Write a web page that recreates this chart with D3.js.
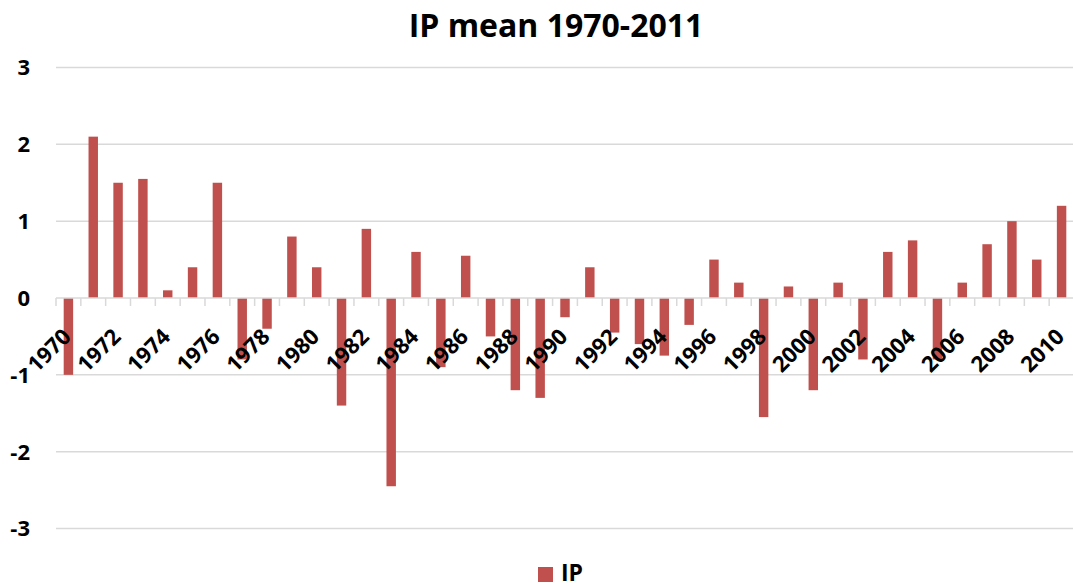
<!DOCTYPE html>
<html>
<head>
<meta charset="utf-8">
<script src="https://cdn.jsdelivr.net/npm/d3@7"></script>
<style>
  html, body { margin: 0; padding: 0; background: #fff; }
  svg { display: block; }
  text { font-family: "Open Sans", "Liberation Sans", sans-serif; font-weight: 700; fill: #000; }
</style>
</head>
<body>
<svg id="chart" width="1073" height="583"></svg>
<script>
const years = d3.range(1970, 2011).map(String);
const ipValues = [
  -1.0, 2.1, 1.5, 1.55, 0.1, 0.4, 1.5, -0.8, -0.4, 0.8,
  0.4, -1.4, 0.9, -2.45, 0.6, -0.9, 0.55, -0.5, -1.2, -1.3,
  -0.25, 0.4, -0.45, -0.6, -0.75, -0.35, 0.5, 0.2, -1.55, 0.15,
  -1.2, 0.2, -0.8, 0.6, 0.75, -0.8, 0.2, 0.7, 1.0, 0.5,
  1.2
];
const yTicks = [-3, -2, -1, 0, 1, 2, 3];
const xTickLabels = years.filter((y, i) => i % 2 === 0);
const seriesName = "IP";
const titleText = "IP mean 1970-2011";
const barColor = "#C0504D";

const svg = d3.select("#chart");
const plotLeft = 56, plotRight = 1074, plotTop = 67.5, plotBottom = 528.5;

const x = d3.scaleBand().domain(years).range([plotLeft, plotRight]).padding(0);
const y = d3.scaleLinear().domain([-3, 3]).range([plotBottom, plotTop]);

// gridlines
svg.append("g").selectAll("line").data(yTicks.filter(t => t !== 0)).join("line")
  .attr("x1", plotLeft).attr("x2", plotRight)
  .attr("y1", d => y(d)).attr("y2", d => y(d))
  .attr("stroke", "#d9d9d9").attr("stroke-width", 1.5);

// y axis labels
svg.append("g").selectAll("text").data(yTicks).join("text")
  .attr("x", 30).attr("y", d => y(d))
  .attr("dy", "0.36em")
  .attr("text-anchor", "end")
  .attr("font-size", 22)
  .text(d => d);

// bars
const bw = x.bandwidth();
svg.append("g").selectAll("rect").data(years.map((yr, i) => ({yr, v: ipValues[i]}))).join("rect")
  .attr("x", d => x(d.yr) + bw * 0.31)
  .attr("width", bw * 0.38)
  .attr("y", d => Math.min(y(d.v), y(0)))
  .attr("height", d => Math.abs(y(d.v) - y(0)))
  .attr("fill", barColor);

// zero axis line and ticks
const axisG = svg.append("g");
axisG.append("line")
  .attr("x1", plotLeft).attr("x2", plotRight)
  .attr("y1", y(0)).attr("y2", y(0))
  .attr("stroke", "#d9d9d9").attr("stroke-width", 1.5);
axisG.selectAll("line.tick").data(years).join("line")
  .attr("class", "tick")
  .attr("x1", d => x(d)).attr("x2", d => x(d))
  .attr("y1", y(0)).attr("y2", y(0) + 8)
  .attr("stroke", "#d9d9d9").attr("stroke-width", 1.5);

// x labels
svg.append("g").selectAll("text").data(xTickLabels).join("text")
  .attr("transform", d => `translate(${x(d) + bw / 2 + 4},${y(0) + 40}) rotate(-45)`)
  .attr("text-anchor", "end")
  .attr("font-size", 22)
  .text(d => d);

// title
svg.append("text")
  .attr("x", 556).attr("y", 37)
  .attr("text-anchor", "middle")
  .attr("font-size", 32)
  .text(titleText);

// legend
const leg = svg.append("g");
leg.append("rect").attr("x", 538).attr("y", 567).attr("width", 15).attr("height", 15).attr("fill", barColor);
leg.append("text").attr("x", 561).attr("y", 581).attr("font-size", 23).text(seriesName);
</script>
</body>
</html>
